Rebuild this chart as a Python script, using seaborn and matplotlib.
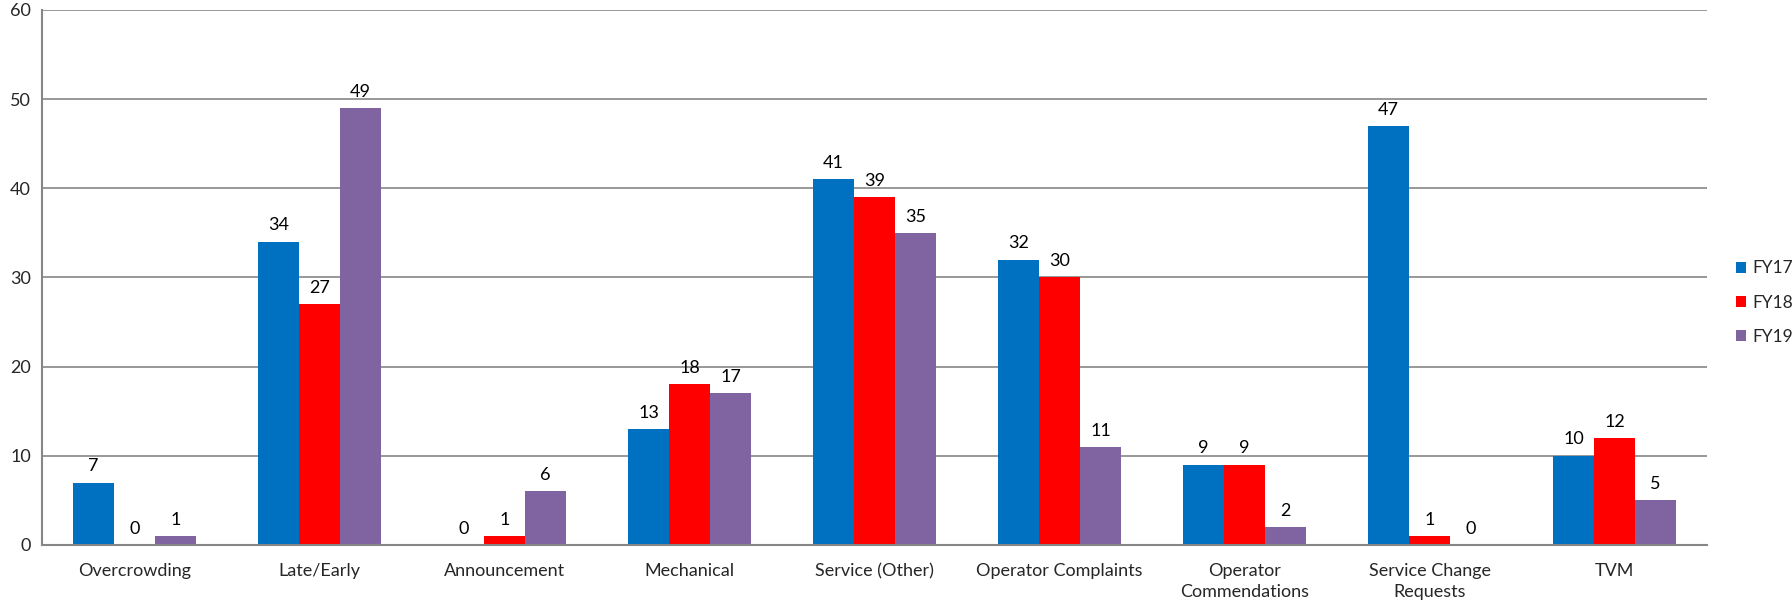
import pandas as pd
import seaborn as sns
import matplotlib.pyplot as plt
from matplotlib.ticker import MultipleLocator, FixedLocator

# Data
categories = ['Overcrowding', 'Late/Early', 'Announcement', 'Mechanical', 'Service (Other)',
              'Operator Complaints', 'Operator\nCommendations', 'Service Change\nRequests', 'TVM']
fy17 = [7, 34, 0, 13, 41, 32, 9, 47, 10]
fy18 = [0, 27, 1, 18, 39, 30, 9, 1, 12]
fy19 = [1, 49, 6, 17, 35, 11, 2, 0, 5]
years = ['FY17', 'FY18', 'FY19']
colors = ['#0070C0', '#FF0000', '#8064A2']

df = pd.DataFrame({'category': categories * 3,
                   'year': [y for y in years for _ in categories],
                   'count': fy17 + fy18 + fy19})

sns.set_style('white')
plt.rcParams['font.family'] = ['Lato', 'DejaVu Sans']

fig = plt.figure(figsize=(17.92, 6.05), dpi=100)
ax = fig.add_axes([0.0234, 0.0992, 0.9292, 0.8843])

sns.barplot(data=df, x='category', y='count', hue='year', palette=colors,
            width=0.665, saturation=1, linewidth=0, ax=ax, legend=True)

for c in ax.containers:
    ax.bar_label(c, padding=6, fontsize=13, color='#000000')

ax.set_ylim(0, 60)
ax.set_xlim(-0.5, len(categories) - 0.5)
ax.yaxis.set_major_locator(MultipleLocator(10))
ax.grid(axis='y', color='#868686', linewidth=1.2)
ax.set_axisbelow(True)
ax.set_xlabel('')
ax.set_ylabel('')

for s in ['top', 'right']:
    ax.spines[s].set_visible(False)
for s in ['left', 'bottom']:
    ax.spines[s].set_color('#868686')
    ax.spines[s].set_linewidth(1.5)

ax.tick_params(axis='x', which='major', length=0, labelsize=13, pad=13)
for lbl in ax.get_xticklabels():
    lbl.set_linespacing(1.35)
ax.xaxis.set_minor_locator(FixedLocator([i - 0.5 for i in range(len(categories) + 1)]))
ax.tick_params(axis='x', which='minor', length=6, width=1.5, color='#868686')
ax.tick_params(axis='y', length=5, width=1.5, color='#868686', labelsize=13, pad=3)

handles, labels = ax.get_legend_handles_labels()
ax.get_legend().remove()
fig.legend(handles, labels, loc='center left', bbox_to_anchor=(0.9685, 0.5),
           frameon=False, fontsize=12.5, handlelength=0.6, handleheight=0.6,
           handletextpad=0.35, labelspacing=1.05, borderpad=0, borderaxespad=0)

fig.savefig('out.png', dpi=100)
